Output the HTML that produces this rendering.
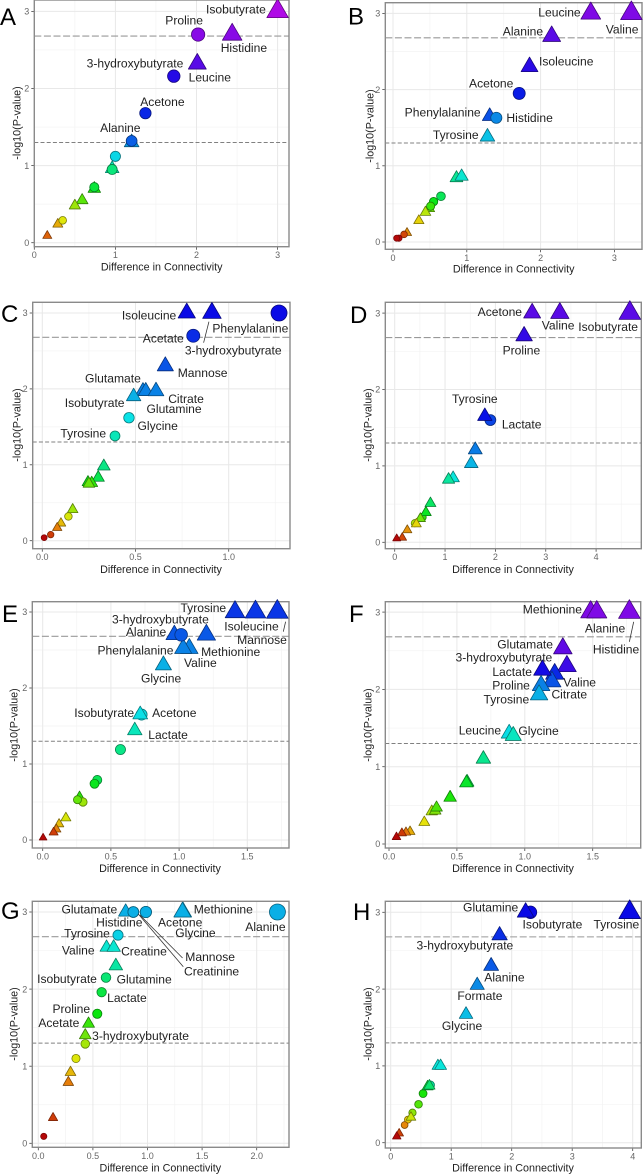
<!DOCTYPE html>
<html>
<head>
<meta charset="utf-8">
<title>Difference in connectivity volcano plots</title>
<style>
html,body{margin:0;padding:0;background:#fff;}
svg{display:block;font-family:"Liberation Sans",Arial,sans-serif;filter:blur(.3px);}
</style>
</head>
<body>
<svg id="figure" width="643" height="1174" viewBox="0 0 643 1174" xmlns="http://www.w3.org/2000/svg"></svg>
<script>
// ---------- Chart data ----------
const aXValues=[3.0,2.44,2.01,1.2,0.96,0.74,0.59,0.5,0.29,0.16,2.02,1.72,1.37,1.2,1.0,0.96,0.74,0.35];
const aYValues=[3.0,2.7,2.32,1.3,0.96,0.7,0.55,0.48,0.24,0.09,2.7,2.16,1.68,1.32,1.12,0.95,0.72,0.29];
const aShapes=['t','t','t','t','t','t','t','t','t','t','c','c','c','c','c','c','c','c'];
const aLabels=['Isobutyrate','Histidine','3-hydroxybutyrate','Alanine','','','','','','','Proline','Leucine','Acetone','','','','',''];
const aXTicks=[0,1,2,3];
const aXTickLabels=['0','1','2','3'];

const bXValues=[2.68,3.23,2.15,1.85,1.31,1.28,0.86,0.93,0.49,0.44,0.35,0.19,1.71,1.4,0.65,0.55,0.51,0.15,0.08,0.05];
const bYValues=[3.0,3.0,2.7,2.3,1.65,1.38,0.84,0.86,0.44,0.39,0.28,0.12,1.95,1.63,0.6,0.53,0.47,0.1,0.05,0.05];
const bShapes=['t','t','t','t','t','t','t','t','t','t','t','t','c','c','c','c','c','c','c','c'];
const bLabels=['Leucine','Valine','Alanine','Isoleucine','Phenylalanine','Tyrosine','','','','','','','Acetone','Histidine','','','','','',''];
const bXTicks=[0,1,2,3];
const bXTickLabels=['0','1','2','3'];

const cXValues=[0.775,0.91,0.66,0.54,0.555,0.61,0.49,0.33,0.30,0.265,0.245,0.25,0.163,0.1,0.08,1.27,0.81,0.465,0.39,0.14,0.045,0.01];
const cYValues=[3.0,3.0,2.3,1.97,1.97,1.97,1.9,0.98,0.83,0.76,0.77,0.75,0.41,0.23,0.17,3.0,2.7,1.62,1.38,0.32,0.08,0.04];
const cShapes=['t','t','t','t','t','t','t','t','t','t','t','t','t','t','t','c','c','c','c','c','c','c'];
const cLabels=['Isoleucine','3-hydroxybutyrate','Mannose','Glutamate','Glutamine','Citrate','Isobutyrate','','','','','','','','','Phenylalanine','Acetate','Glycine','Tyrosine','','',''];
const cXTicks=[0,0.5,1];
const cXTickLabels=['0.0','0.5','1.0'];

const dXValues=[1.9,0.4,0.55,2.73,3.28,4.67,2.57,1.79,1.6,1.52,1.16,1.07,0.71,0.62,0.51,0.43,0.25,0.15,0.04];
const dYValues=[1.6,0.25,0.33,3.0,3.0,3.0,2.7,1.65,1.21,1.03,0.84,0.82,0.51,0.39,0.31,0.24,0.16,0.06,0.05];
const dShapes=['c','c','c','t','t','t','t','t','t','t','t','t','t','t','t','t','t','t','t'];
const dLabels=['Lactate','','','Acetone','Valine','Isobutyrate','Proline','Tyrosine','','','','','','','','','','',''];
const dXTicks=[0,1,2,3,4];
const dXTickLabels=['0','1','2','3','4'];

const eXValues=[1.41,1.56,1.72,1.2,0.965,1.075,1.03,0.885,0.725,0.715,0.675,0.27,0.17,0.12,0.1,0.08,0.003,1.015,0.57,0.4,0.38,0.295,0.255];
const eYValues=[3.0,3.0,3.0,2.7,2.7,2.52,2.52,2.3,1.65,1.65,1.44,0.56,0.29,0.21,0.14,0.1,0.03,2.7,1.19,0.79,0.74,0.5,0.53];
const eShapes=['t','t','t','t','t','t','t','t','c','t','t','t','t','t','t','t','t','c','c','c','c','c','c'];
const eLabels=['Tyrosine','Isoleucine','Mannose','Methionine','Alanine','Valine','Phenylalanine','Glycine','Acetone','Isobutyrate','Lactate','','','','','','','3-hydroxybutyrate','','','','',''];
const eXTicks=[0,0.5,1,1.5];
const eXTickLabels=['0.0','0.5','1.0','1.5'];

const fXValues=[1.485,1.53,1.77,1.28,1.31,1.22,1.2,1.13,1.12,1.105,0.885,0.915,0.695,0.575,0.57,0.45,0.315,0.34,0.35,0.26,0.155,0.125,0.095,0.055];
const fYValues=[3.0,3.0,3.0,2.53,2.3,2.2,2.1,2.25,2.05,1.93,1.43,1.4,1.1,0.8,0.79,0.6,0.42,0.43,0.47,0.28,0.16,0.15,0.14,0.09];
const fShapes=['t','t','t','t','t','t','t','t','t','t','t','t','t','t','t','t','t','t','t','t','t','t','t','t'];
const fLabels=['Methionine','Alanine','Histidine','Glutamate','3-hydroxybutyrate','Valine','Citrate','Lactate','Proline','Tyrosine','Leucine','Glycine','','','','','','','','','','','',''];
const fXTicks=[0,0.5,1,1.5];
const fXTickLabels=['0.0','0.5','1.0','1.5'];

const gXValues=[1.325,1.32,0.8,0.625,0.69,0.71,0.46,0.43,0.295,0.275,0.135,2.19,0.985,0.985,0.87,0.87,0.73,0.62,0.58,0.54,0.43,0.345,0.05];
const gYValues=[3.0,3.0,3.0,2.54,2.54,2.3,1.55,1.4,0.92,0.79,0.33,3.0,3.0,3.0,3.0,3.0,2.7,2.15,1.96,1.68,1.29,1.1,0.09];
const gShapes=['t','t','t','t','t','t','t','t','t','t','t','c','c','c','c','c','c','c','c','c','c','c','c'];
const gLabels=['Methionine','Glycine','Glutamate','Valine','Creatine','Glutamine','Acetate','3-hydroxybutyrate','','','','Alanine','Acetone','Mannose','Histidine','Creatinine','Tyrosine','Isobutyrate','Lactate','Proline','','',''];
const gXTicks=[0,0.5,1,1.5,2];
const gXTickLabels=['0.0','0.5','1.0','1.5','2.0'];

const hXValues=[2.31,0.655,0.535,0.46,0.36,0.285,0.23,2.23,3.95,1.8,1.66,1.43,1.245,0.78,0.825,0.61,0.64,0.335,0.14,0.1];
const hYValues=[3.0,0.75,0.64,0.5,0.39,0.3,0.23,3.0,3.0,2.7,2.3,2.05,1.67,1.0,1.0,0.73,0.74,0.33,0.12,0.08];
const hShapes=['c','c','c','c','c','c','c','t','t','t','t','t','t','t','t','t','t','t','t','t'];
const hLabels=['Isobutyrate','','','','','','','Glutamine','Tyrosine','3-hydroxybutyrate','Alanine','Formate','Glycine','','','','','','',''];
const hXTicks=[0,1,2,3,4];
const hXTickLabels=['0','1','2','3','4'];

const yTicks=[0,1,2,3];
const yTickLabels=['0','1','2','3'];
const thresholds=[2.68,1.3];

// ---------- Layout (not data): label offsets from their point, in px ----------
const aLabelOffsets={'Isobutyrate':[-41.7,-2.3],'Proline':[-14,-14.3],'Histidine':[11.7,13],'3-hydroxybutyrate':[-62.3,-.7],'Leucine':[36,1],'Acetone':[17,-11.7],'Alanine':[-11.3,-15]};
const bLabelOffsets={'Leucine':[-31.3,-1],'Valine':[-9.3,16],'Alanine':[-28.7,-5.3],'Isoleucine':[36.7,-5.3],'Acetone':[-28,-10],'Phenylalanine':[-47,-4.3],'Histidine':[33.3,0],'Tyrosine':[-31.7,-2.3]};
const cLabelOffsets={'Isoleucine':[-37.7,2],'3-hydroxybutyrate':[21.3,37.3],'Phenylalanine':[-28.7,15.3],'Acetate':[-30,2.3],'Mannose':[37.3,6.7],'Glutamate':[-30,-13],'Citrate':[30,7.3],'Glutamine':[28.3,17.7],'Isobutyrate':[-39,6.3],'Glycine':[28.7,8],'Tyrosine':[-31.7,-2.7]};
const dLabelOffsets={'Acetone':[-32.3,-1.3],'Valine':[-1.7,12],'Isobutyrate':[-21.7,13.7],'Proline':[-2.7,14],'Tyrosine':[-10,-17.7],'Lactate':[31.3,4.3]};
const eLabelOffsets={'Tyrosine':[-31.7,-4.3],'Isoleucine':[-4,14],'Mannose':[-15.3,27.7],'Methionine':[24.3,17],'Alanine':[-28.3,-3],'3-hydroxybutyrate':[-20.7,-15.7],'Phenylalanine':[-47.7,1.7],'Valine':[11,14],'Glycine':[-2.3,13],'Isobutyrate':[-36,-1.7],'Acetone':[32.7,-2],'Lactate':[33.3,4]};
const fLabelOffsets={'Methionine':[-38.3,-2.7],'Alanine':[8.3,16],'Histidine':[-13.3,37],'Glutamate':[-37.7,-4.3],'3-hydroxybutyrate':[-63,-9],'Lactate':[-30.3,1.7],'Valine':[25,8.3],'Proline':[-30,-.3],'Citrate':[17.3,12.7],'Tyrosine':[-32.7,4.3],'Leucine':[-29.3,-3.3],'Glycine':[25.3,-5]};
const gLabelOffsets={'Glutamate':[-36.3,-2.7],'Methionine':[40.3,-3],'Histidine':[-14,10.3],'Acetone':[34.3,10.3],'Alanine':[-12,14.7],'Glycine':[13,20.7],'Tyrosine':[-31,-2],'Valine':[-28.3,2.7],'Creatine':[30.3,3.7],'Mannose':[64.3,44.7],'Creatinine':[78.3,59.3],'Glutamine':[28.3,13.3],'Isobutyrate':[-39,1.3],'Lactate':[25.3,5.3],'Proline':[-26,-5.3],'Acetate':[-29.7,-1.3],'3-hydroxybutyrate':[55.3,.3]};
const hLabelOffsets={'Glutamine':[-35,-5],'Isobutyrate':[22,11.7],'Tyrosine':[-13.3,12],'3-hydroxybutyrate':[-34.7,9.7],'Alanine':[13.3,11],'Formate':[2.7,10.3],'Glycine':[-4,11.3]};

const cLeaders={'3-hydroxybutyrate':[-3,8.7,-8.3,29.7]};
const eLeaders={'Mannose':[8.3,9.7,6,19.7]};
const fLeaders={'Histidine':[4.3,9.7,0,29.7]};
const gLeaders={'Mannose':[-6,3,36.7,46],'Creatinine':[5,2,50,54.7]};

const panels=[
 {id:'A',letter:[0,25],left:34.3,right:289,top:0,bottom:246.7,x0:34.3,xu:81.1,y0:242.7,yu:77.1,titleX:161.7,titleY:267,yTitleX:16.7,yTitleY:123,hue:285,hueMin:25,xs:aXValues,ys:aYValues,shapes:aShapes,labels:aLabels,offsets:aLabelOffsets,leaders:{},xTicks:aXTicks,xTickLabels:aXTickLabels},
 {id:'B',letter:[348,24.3],left:385.3,right:642,top:2.7,bottom:249.3,x0:393,xu:73.8,y0:242,yu:76.2,titleX:513.7,titleY:269,yTitleX:369.7,yTitleY:126,hue:272,hueMin:0,xs:bXValues,ys:bYValues,shapes:bShapes,labels:bLabels,offsets:bLabelOffsets,leaders:{},xTicks:bXTicks,xTickLabels:bXTickLabels},
 {id:'C',letter:[1,322],left:32.7,right:290,top:302.3,bottom:548.7,x0:42.3,xu:186.4,y0:540.7,yu:75.9,titleX:161,titleY:569.3,yTitleX:16.7,yTitleY:425,hue:240,hueMin:0,xs:cXValues,ys:cYValues,shapes:cShapes,labels:cLabels,offsets:cLabelOffsets,leaders:cLeaders,xTicks:cXTicks,xTickLabels:cXTickLabels},
 {id:'D',letter:[350,323],left:385.3,right:641.3,top:302.3,bottom:548.7,x0:394.7,xu:50.35,y0:542.3,yu:76.4,titleX:513,titleY:569.3,yTitleX:368,yTitleY:425,hue:262,hueMin:0,xs:dXValues,ys:dYValues,shapes:dShapes,labels:dLabels,offsets:dLabelOffsets,leaders:{},xTicks:dXTicks,xTickLabels:dXTickLabels},
 {id:'E',letter:[2,622],left:32.3,right:289,top:601.7,bottom:848,x0:42.7,xu:136.4,y0:840,yu:76,titleX:160,titleY:868.3,yTitleX:14,yTitleY:725,hue:228,hueMin:0,xs:eXValues,ys:eYValues,shapes:eShapes,labels:eLabels,offsets:eLabelOffsets,leaders:eLeaders,xTicks:eXTicks,xTickLabels:eXTickLabels},
 {id:'F',letter:[349,622],left:385.3,right:640.7,top:601.7,bottom:848,x0:389,xu:135.8,y0:844,yu:77.3,titleX:513,titleY:868.3,yTitleX:368,yTitleY:725,hue:272,hueMin:0,xs:fXValues,ys:fYValues,shapes:fShapes,labels:fLabels,offsets:fLabelOffsets,leaders:fLeaders,xTicks:fXTicks,xTickLabels:fXTickLabels},
 {id:'G',letter:[1,919],left:32.3,right:289,top:901.3,bottom:1147.3,x0:38.3,xu:109.2,y0:1143.3,yu:77.1,titleX:160.3,titleY:1168,yTitleX:14,yTitleY:1024,hue:195,hueMin:0,xs:gXValues,ys:gYValues,shapes:gShapes,labels:gLabels,offsets:gLabelOffsets,leaders:gLeaders,xTicks:gXTicks,xTickLabels:gXTickLabels},
 {id:'H',letter:[353,920],left:385.3,right:641.3,top:901.3,bottom:1148,x0:390.7,xu:60.5,y0:1142.7,yu:76.8,titleX:513,titleY:1168,yTitleX:368,yTitleY:1024,hue:240,hueMin:0,xs:hXValues,ys:hYValues,shapes:hShapes,labels:hLabels,offsets:hLabelOffsets,leaders:{},xTicks:hXTicks,xTickLabels:hXTickLabels}
];

const svg=document.getElementById('figure');
const NS='http://www.w3.org/2000/svg';
function make(parent,tag,attrs,text){
  const el=document.createElementNS(NS,tag);
  for(const k in attrs){el.setAttribute(k,attrs[k]);}
  if(text!==undefined){el.textContent=text;}
  parent.appendChild(el);
  return el;
}
function drawPanel(p){
  const xScale=v=>p.x0+p.xu*v;
  const yScale=v=>p.y0-p.yu*v;
  const low=p.id.toLowerCase();
  const g=make(svg,'g',{});
  
  

  const bg=make(g,'rect',{x:p.left,y:p.top,width:p.right-p.left,height:p.bottom-p.top,fill:'#fff'});
  
  

  // minor grid
  const xStep=p.xTicks[1]-p.xTicks[0];
  for(let v=-xStep/2;xScale(v)<p.right;v+=xStep){
    if(xScale(v)<=p.left){continue;}
    const m=make(g,'line',{x1:xScale(v),x2:xScale(v),y1:p.top,y2:p.bottom,stroke:'#f3f3f3','stroke-width':.7});
    
    
  }
  for(let v=-.5;yScale(v)>p.top;v+=1){
    if(yScale(v)>=p.bottom){continue;}
    const m=make(g,'line',{y1:yScale(v),y2:yScale(v),x1:p.left,x2:p.right,stroke:'#f3f3f3','stroke-width':.7});
    
    
  }
  // major grid + ticks
  p.xTicks.forEach((v,i)=>{
    const x=xScale(v);
    const gl=make(g,'line',{x1:x,x2:x,y1:p.top,y2:p.bottom,stroke:'#e8e8e8','stroke-width':1});
    
    
    const tk=make(g,'line',{x1:x,x2:x,y1:p.bottom,y2:p.bottom+3,stroke:'#444','stroke-width':.8});
    
    
    const tl=make(g,'text',{x:x,y:p.bottom+11.5,'text-anchor':'middle','font-size':9,fill:'#666'},p.xTickLabels[i]);
    
    
  });
  yTicks.forEach((v,i)=>{
    const y=yScale(v);
    const gl=make(g,'line',{y1:y,y2:y,x1:p.left,x2:p.right,stroke:'#e8e8e8','stroke-width':1});
    
    
    const tk=make(g,'line',{y1:y,y2:y,x1:p.left-3,x2:p.left,stroke:'#444','stroke-width':.8});
    
    
    const tl=make(g,'text',{x:p.left-5,y:y+3.2,'text-anchor':'end','font-size':9,fill:'#666'},yTickLabels[i]);
    
    
  });
  // threshold lines
  thresholds.forEach((t,i)=>{
    const y=yScale(t);
    const th=make(g,'line',{x1:p.left,x2:p.right,y1:y,y2:y,stroke:i===0?'#999':'#808080','stroke-width':i===0?1.1:1,'stroke-dasharray':i===0?'7 2.6':'4 2.2'});
    
    
  });
  // border
  const border=make(g,'rect',{x:p.left,y:p.top,width:p.right-p.left,height:p.bottom-p.top,fill:'none',stroke:'#8a8a8a','stroke-width':1.4});
  
  

  // colours follow the rank of -log10(P); sizes follow the connectivity difference
  const uniq=[...new Set(p.ys)].sort((a,b)=>a-b);
  const xMax=Math.max(...p.xs);
  p.xs.forEach((xv,i)=>{
    const yv=p.ys[i];
    const t=uniq.length>1?uniq.indexOf(yv)/(uniq.length-1):1;
    const h=p.hueMin+(p.hue-p.hueMin)*(1-Math.pow(1-t,1.15));
    const light=h<30?47-(30-h)/3:47;
    const fill='hsl('+h+',92%,'+light+'%)';
    const edge='hsl('+h+',90%,26%)';
    const r=2.8+5.2*Math.pow(xv/xMax,.75);
    const cx=xScale(xv),cy=yScale(yv);
    let mark;
    if(p.shapes[i]==='c'){
      mark=make(g,'circle',{cx:cx,cy:cy,r:r,fill:fill,stroke:edge,'stroke-width':.8});
    }else{
      const w=r*1.35;
      const pts=[[cx,cy-1.15*w],[cx+w,cy+.58*w],[cx-w,cy+.58*w]].map(q=>q[0].toFixed(2)+','+q[1].toFixed(2)).join(' ');
      mark=make(g,'polygon',{points:pts,fill:fill,stroke:edge,'stroke-width':.8,'stroke-linejoin':'round'});
    }
    
    
  });
  // leaders + labels on top
  p.labels.forEach((name,i)=>{
    if(!name){return;}
    const cx=xScale(p.xs[i]),cy=yScale(p.ys[i]);
    const lead=p.leaders[name];
    if(lead){
      const ln=make(g,'line',{x1:cx+lead[0],y1:cy+lead[1],x2:cx+lead[2],y2:cy+lead[3],stroke:'#333','stroke-width':.8});
      
      
    }
    const off=p.offsets[name]||[0,-12];
    const tx=make(g,'text',{x:cx+off[0],y:cy+off[1]+4.3,'text-anchor':'middle','font-size':12.1,fill:'#222'},name);
    
    
  });
  // titles
  const xt=make(g,'text',{x:p.titleX,y:p.titleY+3.7,'text-anchor':'middle','font-size':10.75,fill:'#222'},'Difference in Connectivity');
  
  
  const yt=make(g,'text',{x:0,y:0,'text-anchor':'middle','font-size':10.75,fill:'#222',transform:'translate('+(p.yTitleX+3.7)+','+p.yTitleY+') rotate(-90)'},'-log10(P-value)');
  
  
  const letter=make(g,'text',{x:p.letter[0],y:p.letter[1],'font-size':24,fill:'#000'},p.id);
  
  
}
panels.forEach(drawPanel);
</script>
</body>
</html>
